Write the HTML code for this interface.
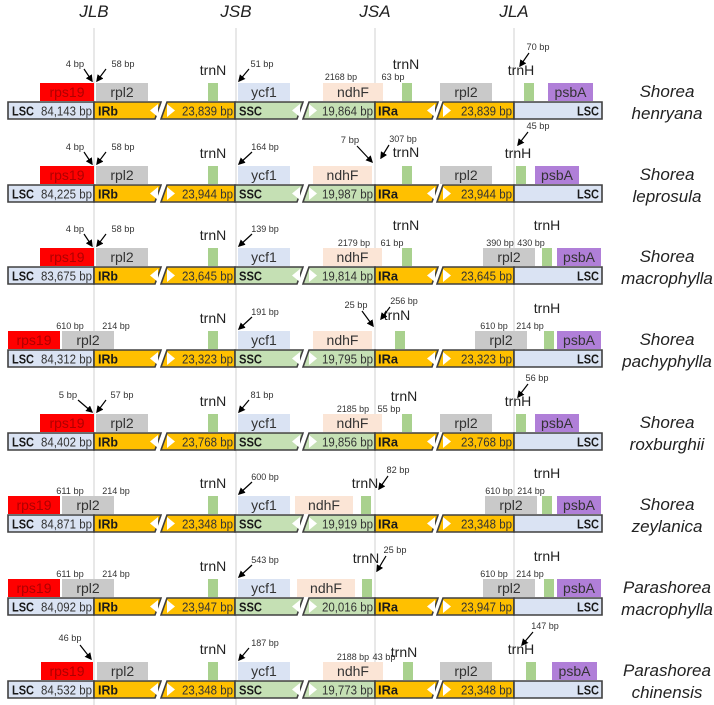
<!DOCTYPE html>
<html><head><meta charset="utf-8"><style>
html,body{margin:0;padding:0;background:#fff;}
svg{display:block;font-family:"Liberation Sans",sans-serif;}
</style></head><body>
<svg id="fig" width="714" height="705" viewBox="0 0 714 705" xmlns="http://www.w3.org/2000/svg">
<defs><marker id="ah" viewBox="0 0 10 10" refX="8" refY="5" markerWidth="6" markerHeight="6" orient="auto"><path d="M0,0L10,5L0,10z" fill="#000"/></marker></defs>
</svg>
<script>
const junctions=[["JLB",94],["JSB",236],["JSA",375],["JLA",514]];
const species=[["Shorea","henryana"],["Shorea","leprosula"],["Shorea","macrophylla"],["Shorea","pachyphylla"],["Shorea","roxburghii"],["Shorea","zeylanica"],["Parashorea","macrophylla"],["Parashorea","chinensis"]];
const lscLen=["84,143","84,225","83,675","84,312","84,402","84,871","84,092","84,532"];
const irLen=["23,839","23,944","23,645","23,323","23,768","23,348","23,947","23,348"];
const sscLen=["19,864","19,987","19,814","19,795","19,856","19,919","20,016","19,773"];
const genes=[
 [["rps19",40,94],["rpl2",96,148],["trnN",208,218],["ycf1",238,290],["ndhF",323,383],["trnN",402,412],["rpl2",440,492],["trnH",524,534],["psbA",548,593]],
 [["rps19",40,94],["rpl2",96,148],["trnN",208,218],["ycf1",238,290],["ndhF",313,372],["trnN",402,412],["rpl2",440,492],["trnH",516,526],["psbA",535,579]],
 [["rps19",40,94],["rpl2",96,148],["trnN",208,218],["ycf1",238,290],["ndhF",323,382],["trnN",402,412],["rpl2",483,535],["trnH",542,552],["psbA",557,601]],
 [["rps19",8,60],["rpl2",62,114],["trnN",208,218],["ycf1",238,290],["ndhF",313,372],["trnN",395,405],["rpl2",475,527],["trnH",544,554],["psbA",557,601]],
 [["rps19",40,94],["rpl2",96,148],["trnN",208,218],["ycf1",238,290],["ndhF",323,382],["trnN",402,412],["rpl2",440,492],["trnH",516,526],["psbA",535,579]],
 [["rps19",8,60],["rpl2",62,114],["trnN",208,218],["ycf1",238,290],["ndhF",295,353],["trnN",361,371],["rpl2",485,537],["trnH",542,552],["psbA",557,601]],
 [["rps19",8,60],["rpl2",62,114],["trnN",208,218],["ycf1",238,290],["ndhF",297,355],["trnN",362,372],["rpl2",483,535],["trnH",544,554],["psbA",557,601]],
 [["rps19",41,93],["rpl2",97,148],["trnN",208,218],["ycf1",238,290],["ndhF",323,383],["trnN",403,413],["rpl2",440,492],["trnH",526,536],["psbA",552,597]]
];
const notes=[
 [["4 bp",75,-35,10],["58 bp",123,-35,10],["trnN",213,-27,14],["51 bp",262,-35,10],["2168 bp",341,-22,10],["63 bp",393,-22,10],["trnN",406,-33,14],["70 bp",538,-52,10],["trnH",521,-27,14]],
 [["4 bp",75,-35,10],["58 bp",123,-35,10],["trnN",213,-27,14],["164 bp",265,-35,10],["7 bp",350,-42,10],["307 bp",403,-43,10],["trnN",406,-28,14],["45 bp",538,-56,10],["trnH",518,-27,14]],
 [["4 bp",75,-35,10],["58 bp",123,-35,10],["trnN",213,-27,14],["139 bp",265,-35,10],["2179 bp",354,-21,10],["61 bp",392,-21,10],["trnN",406,-37,14],["390 bp",500,-21,10],["430 bp",531,-21,10],["trnH",547,-37,14]],
 [["610 bp",70,-21,10],["214 bp",116,-21,10],["trnN",213,-27,14],["191 bp",265,-35,10],["25 bp",356,-42,10],["256 bp",404,-46,10],["trnN",397,-30,14],["610 bp",494,-21,10],["214 bp",530,-21,10],["trnH",547,-37,14]],
 [["5 bp",68,-35,10],["57 bp",122,-35,10],["trnN",213,-27,14],["81 bp",262,-35,10],["2185 bp",353,-21,10],["55 bp",389,-21,10],["trnN",404,-32,14],["56 bp",537,-52,10],["trnH",518,-27,14]],
 [["611 bp",70,-21,10],["214 bp",116,-21,10],["trnN",213,-27,14],["600 bp",265,-35,10],["trnN",365,-27,14],["82 bp",398,-42,10],["610 bp",499,-21,10],["214 bp",531,-21,10],["trnH",547,-37,14]],
 [["611 bp",70,-21,10],["214 bp",116,-21,10],["trnN",213,-27,14],["543 bp",265,-35,10],["trnN",366,-35,14],["25 bp",395,-45,10],["610 bp",494,-21,10],["214 bp",530,-21,10],["trnH",547,-37,14]],
 [["46 bp",70,-40,10],["trnN",213,-27,14],["187 bp",265,-35,10],["2188 bp",353,-21,10],["43 bp",384,-21,10],["trnN",404,-24,14],["147 bp",545,-52,10],["trnH",521,-27,14]]
];
const arrows=[
 [[84,-33,92,-21],[106,-33,97,-21],[249,-33,239,-21],[529,-49,520,-36]],
 [[84,-33,92,-21],[106,-33,97,-21],[252,-33,239,-21],[357,-39,372,-23],[389,-40,381,-27],[528,-53,518,-40]],
 [[84,-33,92,-21],[106,-33,97,-21],[252,-33,239,-21]],
 [[252,-33,239,-21],[362,-39,373,-24],[390,-43,381,-31]],
 [[78,-33,92,-21],[106,-33,97,-21],[249,-33,239,-21],[528,-49,518,-36]],
 [[252,-33,239,-21],[388,-39,379,-26]],
 [[252,-33,239,-21],[386,-42,377,-27]],
 [[80,-36,91,-22],[249,-33,239,-21],[533,-49,522,-36]]
];
const rowTop=[102,185,267,350,433,515,598,681];
const NS="http://www.w3.org/2000/svg";
const svg=document.getElementById("fig");
const colors={rps19:["#ff0000","#b00000"],rpl2:["#c9c9c9","#333"],trnN:["#a9d18e",""],trnH:["#a9d18e",""],ycf1:["#dae3f3","#333"],ndhF:["#fbe5d6","#333"],psbA:["#b07fd8","#333"]};
function el(tag,attrs){const e=document.createElementNS(NS,tag);for(const k in attrs)e.setAttribute(k,attrs[k]);svg.appendChild(e);return e;}
function txt(s,x,y,size,anchor,extra){const t=el("text",Object.assign({x:x,y:y,"font-size":size,"text-anchor":anchor||"middle",fill:"#222"},extra||{}));t.textContent=s;return t;}
junctions.forEach(j=>{
 const l=el("line",{x1:j[1],y1:28,x2:j[1],y2:705,stroke:"#d0d0d0","stroke-width":1});
 
 
 const t=txt(j[0],j[1],17,17,"middle",{"font-style":"italic"});
 
 
});
function seg(x1,x2,B,fill,slL,slR){
 const h=17,s=3;
 const pts=[[x1+(slL?s:0),B],[x2+(slR?s:0),B],[x2-(slR?s:0),B+h],[x1-(slL?s:0),B+h]];
 return el("polygon",{points:pts.map(a=>a.join(",")).join(" "),fill:fill,stroke:"#404040","stroke-width":1.6});
}
function tri(x,B,dir){
 const y1=B+2,y2=B+15,ym=B+8.5;
 const pts=dir<0?[[x,ym],[x+8,y1],[x+8,y2]]:[[x+8,ym],[x,y1],[x,y2]];
 return el("polygon",{points:pts.map(a=>a.join(",")).join(" "),fill:"#fff"});
}
rowTop.forEach((B,i)=>{
 genes[i].forEach(g=>{
  const c=colors[g[0]];
  const r=el("rect",{x:g[1],y:B-19,width:g[2]-g[1],height:18,fill:c[0]});
  
  
  if(c[1]){const t=txt(g[0],(g[1]+g[2])/2,B-5,14,"middle",{fill:c[1]});
   
   }
 });
 const parts=[[8,94,"#dae3f3",0,0,"lsc-left"],[94,158,"#ffc000",0,1,"irb"],[164,235,"#ffc000",1,0,"irb-cont"],[235,300,"#c5e0b4",0,1,"ssc"],[306,375,"#c5e0b4",1,0,"ssc-cont"],[375,435,"#ffc000",0,1,"ira"],[440,514,"#ffc000",1,0,"ira-cont"],[514,602,"#dae3f3",0,0,"lsc-right"]];
 parts.forEach(p=>{const s=seg(p[0],p[1],B,p[2],p[3],p[4]);
  
  });
 [[150,-1],[167,1],[292,-1],[309,1],[427,-1],[443,1]].forEach(t=>tri(t[0],B,t[1]));
 const lab=[["LSC",12,"start",1,22],[lscLen[i]+" bp",92,"end",0,51],["IRb",98,"start",1,20],[irLen[i]+" bp",233,"end",0,51],["SSC",239,"start",1,23],[sscLen[i]+" bp",373,"end",0,51],["IRa",378,"start",1,20],[irLen[i]+" bp",512,"end",0,51],["LSC",599,"end",1,22]];
 lab.forEach(l=>{const t=txt(l[0],l[1],B+13.5,13,l[2],{"font-weight":l[3]?"bold":"normal",fill:l[3]?"#1a1a1a":"#333",textLength:l[4],lengthAdjust:"spacingAndGlyphs"});
  
  });
 notes[i].forEach(n=>{const small=n[3]<12;
  const ex={fill:small?"#333":"#222"};
  if(small){ex.textLength=n[0].length*4.6;ex.lengthAdjust="spacingAndGlyphs";}
  const t=txt(n[0],n[1],B+n[2],small?9.5:14,"middle",ex);
  
  });
 arrows[i].forEach(a=>{const l=el("line",{x1:a[0],y1:B+a[1],x2:a[2],y2:B+a[3],stroke:"#000","stroke-width":1.2,"marker-end":"url(#ah)"});
  
  });
 const s1=txt(species[i][0],667,B-5,17,"middle",{"font-style":"italic"});
 
 
 const s2=txt(species[i][1],667,B+17,17,"middle",{"font-style":"italic"});
 
 
});
</script>
</body></html>
